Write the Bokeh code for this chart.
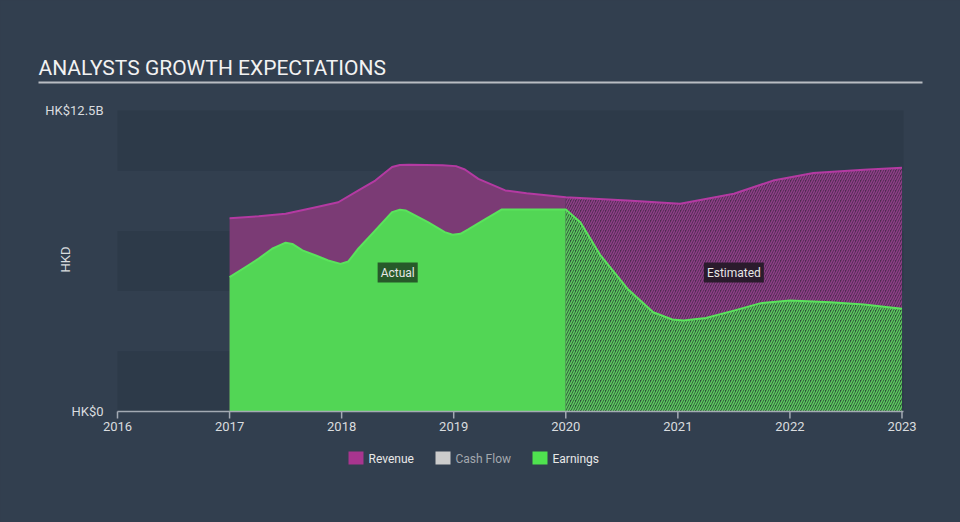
import math
from bokeh.plotting import figure
from bokeh.models import Range1d, Label, BoxAnnotation, ColumnDataSource
from bokeh.core.properties import value
from bokeh.embed import file_html
from bokeh.resources import INLINE

# ---------------- data (HK$ billions) ----------------
rev_years = [2017.0, 2017.26, 2017.5, 2017.77, 2017.97, 2018.15, 2018.3, 2018.45, 2018.52,
             2018.6, 2018.9, 2019.02, 2019.1, 2019.22, 2019.46, 2019.65, 2020.0,
             2020.55, 2021.02, 2021.5, 2021.85, 2022.21, 2022.66, 2023.0]
rev_vals = [8.03, 8.11, 8.21, 8.48, 8.69, 9.18, 9.59, 10.15, 10.24,
            10.25, 10.23, 10.19, 10.05, 9.66, 9.18, 9.06, 8.90,
            8.76, 8.63, 9.04, 9.59, 9.90, 10.04, 10.12]

earn_years = [2017.0, 2017.14, 2017.26, 2017.38, 2017.5, 2017.56, 2017.65, 2017.77, 2017.88,
              2017.99, 2018.06, 2018.15, 2018.3, 2018.45, 2018.52, 2018.57, 2018.77, 2018.92,
              2018.99, 2019.06, 2019.13, 2019.26, 2019.43, 2020.0,
              2020.13, 2020.31, 2020.55, 2020.78, 2020.95, 2021.05, 2021.25, 2021.5,
              2021.74, 2022.0, 2022.36, 2022.66, 2023.0]
earn_vals = [5.58, 5.99, 6.35, 6.76, 7.01, 6.96, 6.69, 6.48, 6.27,
             6.13, 6.23, 6.77, 7.52, 8.28, 8.38, 8.35, 7.86, 7.45,
             7.34, 7.38, 7.56, 7.93, 8.39, 8.39,
             7.86, 6.48, 5.10, 4.12, 3.82, 3.78, 3.88, 4.19,
             4.50, 4.61, 4.54, 4.44, 4.27]

split_year = 2020.0
x_ticks = [2016, 2017, 2018, 2019, 2020, 2021, 2022, 2023]
y_ticks = [0, 12.5]
y_tick_labels = ["HK$0", "HK$12.5B"]
legend_names = ["Revenue", "Cash Flow", "Earnings"]
y_axis_title = "HKD"
chart_title = "ANALYSTS GROWTH EXPECTATIONS"

# ---------------- styling ----------------
BG = "#323f4f"
BAND = "#2d3a49"
TXT = "#d9dcdf"
AXIS = "#a3aab3"
FONT = "Roboto"
REV_FILL = "#7b3b75"
REV_LINE = "#b43aa2"
REV_EST_FILL = "#4f2a51"
REV_EST_HATCH = "#8d3f87"
EARN_FILL = "#52d655"
EARN_LINE = "#5ae35c"
EARN_EST_FILL = "#2e5238"
EARN_EST_HATCH = "#5cc95f"

W, H = 960, 522
FRAME_L, FRAME_T = 117, 110       # pixel position of the data area (2016, 12.5)
FRAME_W, FRAME_H = 786, 301
PPX = 112.07                       # pixels per year
Y_MAX = 12.5
PPY = FRAME_H / Y_MAX              # pixels per HK$ billion
x0 = x_ticks[0]
x_end = x0 + FRAME_W / PPX

# the frame covers the whole canvas so nothing gets clipped
p = figure(width=W, height=H, output_backend="svg", toolbar_location=None,
           x_range=Range1d(x0 - FRAME_L / PPX, x0 + (W - FRAME_L) / PPX),
           y_range=Range1d(-(H - FRAME_T - FRAME_H) / PPY, (FRAME_T + FRAME_H) / PPY),
           min_border=0, x_axis_type=None, y_axis_type=None)
p.background_fill_color = BG
p.border_fill_color = BG
p.outline_line_color = None
p.grid.visible = False


def X(px):
    return x0 + (px - FRAME_L) / PPX


def Y(py):
    return (FRAME_T + FRAME_H - py) / PPY


# alternating bands
band_h = Y_MAX / 5
for i in (0, 2, 4):
    p.add_layout(BoxAnnotation(left=x0, right=x_end, bottom=i * band_h, top=(i + 1) * band_h,
                               fill_color=BAND, fill_alpha=1, line_color=None,
                               level="underlay"))

# split data into actual / estimated
ra_x = [x for x in rev_years if x <= split_year]
ra_y = [v for x, v in zip(rev_years, rev_vals) if x <= split_year]
re_x = [x for x in rev_years if x >= split_year]
re_y = [v for x, v in zip(rev_years, rev_vals) if x >= split_year]
ea_x = [x for x in earn_years if x <= split_year]
ea_y = [v for x, v in zip(earn_years, earn_vals) if x <= split_year]
ee_x = [x for x in earn_years if x >= split_year]
ee_y = [v for x, v in zip(earn_years, earn_vals) if x >= split_year]

# revenue areas
p.varea(x=ra_x, y1=[0] * len(ra_x), y2=ra_y, fill_color=REV_FILL)
p.varea(x=re_x, y1=[0] * len(re_x), y2=re_y, fill_color=REV_EST_FILL,
        hatch_pattern="/", hatch_color=REV_EST_HATCH, hatch_scale=5, hatch_weight=1.5)
# earnings areas
p.varea(x=ea_x, y1=[0] * len(ea_x), y2=ea_y, fill_color=EARN_FILL)
p.varea(x=ee_x, y1=[0] * len(ee_x), y2=ee_y, fill_color=EARN_EST_FILL,
        hatch_pattern="/", hatch_color=EARN_EST_HATCH, hatch_scale=5, hatch_weight=1.5)
# lines
p.line(rev_years, rev_vals, line_color=REV_LINE, line_width=2, line_join="round")
p.line(earn_years, earn_vals, line_color=EARN_LINE, line_width=2, line_join="round")

# ---------------- x axis ----------------
p.segment(x0=[x0], y0=[0], x1=[x_end], y1=[0], line_color=AXIS, line_width=1.5)
xt = ColumnDataSource(dict(x=x_ticks, lab=[str(t) for t in x_ticks]))
p.segment(x0="x", y0=0, x1="x", y1=-7 / PPY, source=xt, line_color=AXIS, line_width=1.5)
p.text(x="x", y=-14.5 / PPY, text="lab", source=xt, text_color=TXT,
       text_font=value(FONT), text_font_size="13px",
       text_align="center", text_baseline="middle")

# ---------------- y axis ----------------
yt = ColumnDataSource(dict(y=y_ticks, lab=y_tick_labels))
p.text(x=x0 - 14 / PPX, y="y", text="lab", source=yt, text_color=TXT,
       text_font=value(FONT), text_font_size="13px",
       text_align="right", text_baseline="middle")
p.add_layout(Label(x=X(65), y=Y(259), text=y_axis_title, angle=math.pi / 2,
                   text_font=FONT, text_font_size="13px", text_color=TXT,
                   text_align="center", text_baseline="middle"))

# ---------------- title and underline ----------------
p.add_layout(Label(x=X(38), y=Y(67.5), text=chart_title,
                   text_font=FONT, text_font_size="21px", text_color="#f2f2f2",
                   text_align="left", text_baseline="middle"))
p.add_layout(BoxAnnotation(left=X(38), right=X(922), top=Y(81), bottom=Y(83),
                           fill_color="#b9bdc3", fill_alpha=1, line_color=None))

# ---------------- region labels ----------------
p.add_layout(Label(x=(ra_x[0] + split_year) / 2, y=Y(272), text="Actual",
                   text_font=FONT, text_font_size="12px", text_color="#e6e6e6",
                   text_align="center", text_baseline="middle",
                   background_fill_color="#275a2a", background_fill_alpha=1, padding=3))
p.add_layout(Label(x=(split_year + re_x[-1]) / 2, y=Y(272), text="Estimated",
                   text_font=FONT, text_font_size="12px", text_color="#e6e6e6",
                   text_align="center", text_baseline="middle",
                   background_fill_color="#2a1b2c", background_fill_alpha=1, padding=3))

# ---------------- legend ----------------
leg_swatch = ["#a8358f", "#cccccc", "#4fe24f"]
leg_text = ["#e8e8e8", "#a3a8ae", "#e8e8e8"]
leg_x = [348, 435, 532]
for name, sc, tc, lx in zip(legend_names, leg_swatch, leg_text, leg_x):
    p.add_layout(BoxAnnotation(left=X(lx), right=X(lx + 15), top=Y(451), bottom=Y(464),
                               fill_color=sc, fill_alpha=1, line_color=None))
    p.add_layout(Label(x=X(lx + 20), y=Y(458), text=name, text_font=FONT,
                       text_font_size="12px", text_color=tc,
                       text_align="left", text_baseline="middle"))

html = file_html(p, INLINE)
html = html.replace("</head>", "<style>body{background:%s;}</style></head>" % BG, 1)
open("out.html", "w").write(html)
